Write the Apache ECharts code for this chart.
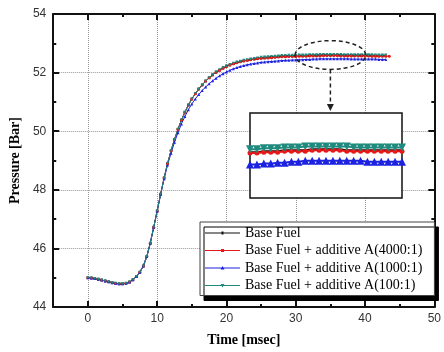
<!DOCTYPE html>
<html>
<head>
<meta charset="utf-8">
<script src="https://cdn.jsdelivr.net/npm/echarts@6/dist/echarts.min.js"></script>
<style>html,body{margin:0;padding:0;background:#fff}#c{width:444px;height:352px}</style>
</head>
<body>
<div id="c"></div>
<script>
const time = [0,0.5,1,1.5,2,2.5,3,3.5,4,4.5,5,5.5,6,6.5,7,7.5,8,8.5,9,9.5,10,10.5,11,11.5,12,12.5,13,13.5,14,14.5,15,15.5,16,16.5,17,17.5,18,18.5,19,19.5,20,20.5,21,21.5,22,22.5,23,23.5,24,24.5,25,25.5,26,26.5,27,27.5,28,28.5,29,29.5,30,30.5,31,31.5,32,32.5,33,33.5,34,34.5,35,35.5,36,36.5,37,37.5,38,38.5,39,39.5,40,40.5,41,41.5,42,42.5,43,43.5];

const baseFuel = [45.00,44.99,44.97,44.95,44.92,44.89,44.86,44.83,44.81,44.79,44.79,44.81,44.85,44.93,45.04,45.19,45.40,45.72,46.18,46.72,47.28,47.85,48.40,48.90,49.33,49.72,50.07,50.38,50.65,50.89,51.10,51.28,51.44,51.58,51.71,51.82,51.92,52.01,52.08,52.15,52.21,52.26,52.30,52.34,52.37,52.40,52.42,52.44,52.46,52.48,52.49,52.50,52.51,52.52,52.53,52.54,52.55,52.55,52.56,52.56,52.56,52.57,52.57,52.57,52.58,52.58,52.58,52.58,52.59,52.59,52.59,52.59,52.59,52.58,52.58,52.58,52.58,52.58,52.58,52.58,52.58,52.58,52.57,52.57,52.57,52.57,52.57];

const additive4000 = [45.00,44.99,44.97,44.95,44.92,44.89,44.86,44.83,44.81,44.79,44.79,44.81,44.85,44.93,45.04,45.19,45.40,45.72,46.18,46.72,47.28,47.86,48.41,48.90,49.33,49.72,50.07,50.38,50.65,50.89,51.10,51.28,51.44,51.58,51.71,51.82,51.92,52.01,52.08,52.15,52.21,52.26,52.30,52.34,52.37,52.40,52.42,52.44,52.46,52.47,52.49,52.50,52.50,52.51,52.52,52.53,52.54,52.54,52.55,52.55,52.55,52.56,52.56,52.56,52.57,52.57,52.57,52.57,52.58,52.58,52.58,52.58,52.58,52.57,52.57,52.57,52.57,52.57,52.57,52.57,52.57,52.57,52.56,52.56,52.56,52.56,52.56,52.56];

const additive1000 = [45.00,44.99,44.97,44.95,44.92,44.89,44.86,44.83,44.81,44.79,44.79,44.81,44.85,44.93,45.04,45.19,45.40,45.72,46.18,46.72,47.28,47.85,48.38,48.85,49.25,49.62,49.95,50.25,50.50,50.73,50.93,51.10,51.25,51.39,51.51,51.62,51.72,51.81,51.89,51.96,52.02,52.08,52.13,52.17,52.21,52.24,52.27,52.29,52.31,52.33,52.35,52.36,52.37,52.38,52.39,52.40,52.41,52.42,52.42,52.43,52.43,52.44,52.44,52.45,52.45,52.46,52.46,52.47,52.47,52.47,52.47,52.47,52.47,52.47,52.47,52.47,52.46,52.46,52.46,52.46,52.46,52.46,52.46,52.46,52.45,52.45,52.45];

const additive100 = [45.00,44.99,44.97,44.95,44.92,44.89,44.86,44.83,44.81,44.79,44.79,44.81,44.85,44.93,45.04,45.19,45.40,45.72,46.18,46.72,47.28,47.85,48.40,48.90,49.33,49.72,50.07,50.38,50.65,50.89,51.10,51.28,51.44,51.58,51.71,51.82,51.93,52.03,52.10,52.17,52.23,52.28,52.32,52.36,52.39,52.42,52.44,52.46,52.48,52.50,52.52,52.53,52.54,52.55,52.56,52.57,52.58,52.58,52.59,52.59,52.59,52.60,52.60,52.60,52.61,52.61,52.61,52.62,52.62,52.62,52.62,52.62,52.62,52.62,52.61,52.61,52.61,52.61,52.61,52.61,52.61,52.61,52.61,52.60,52.60,52.60,52.60];

const seriesNames = ['Base Fuel','Base Fuel + additive A(4000:1)','Base Fuel + additive A(1000:1)','Base Fuel + additive A(100:1)'];
const xMajorTicks = [0,10,20,30,40,50];
const xMinorTicks = [5,15,25,35,45];

const colors = ['#111111','#e81818','#1c22e0','#1f8a7e'];
const symbols = ['rect','circle','triangle','triangle'];
const rotations = [0,0,0,180];
const values = [baseFuel, additive4000, additive1000, additive100];

// legend icons: thin line with a small marker in the middle (35 x 7 box)
const legendIcons = [
  'path://M0,3 L35,3 L35,4 L0,4 Z M16.5,2 L18.5,2 L18.5,5 L16.5,5 Z M0,0 L0.01,0 L0.01,0.01 Z M0,7 L0.01,7 L0.01,6.99 Z',
  'path://M0,3 L35,3 L35,4 L0,4 Z M16,2 L19,2 L19,5 L16,5 Z M0,0 L0.01,0 L0.01,0.01 Z M0,7 L0.01,7 L0.01,6.99 Z',
  'path://M0,3 L35,3 L35,4 L0,4 Z M17.5,1.5 L19.5,5 L15.5,5 Z M0,0 L0.01,0 L0.01,0.01 Z M0,7 L0.01,7 L0.01,6.99 Z',
  'path://M0,3 L35,3 L35,4 L0,4 Z M15.5,2 L19.5,2 L17.5,5.5 Z M0,0 L0.01,0 L0.01,0.01 Z M0,7 L0.01,7 L0.01,6.99 Z'
];

function pairs(arr){ return arr.map((v,i)=>[time[i], v]); }

const chart = echarts.init(document.getElementById('c'), null, {renderer:'canvas'});

const axisFont = {fontFamily:'Liberation Sans, Arial, sans-serif', fontSize:12, color:'#333'};
const nameFont = {fontFamily:'Liberation Serif, Times New Roman, serif', fontSize:14, fontWeight:'bold', color:'#000'};

const G = {left:49, top:14, width:390, height:295};

const mainSeries = values.map((arr,k)=>({
  name: seriesNames[k], type:'line', xAxisIndex:0, yAxisIndex:0,
  data: pairs(arr), symbol: symbols[k], symbolRotate: rotations[k], symbolSize: k===0?2.5:3,
  showAllSymbol:true, color: colors[k],
  lineStyle:{width:1, color: colors[k]}, itemStyle:{color: colors[k]},
  animation:false, z:3
}));

const insetSeries = [0,1,2,3].map(k=>({
  name: 'inset'+k, type:'line', xAxisIndex:4, yAxisIndex:2,
  data: pairs(values[k]),
  symbol: k===0?'none':symbols[k], symbolRotate: rotations[k],
  symbolSize: k===1?5:(k===0?0:8),
  showAllSymbol:true, color: colors[k],
  lineStyle:{width:2, color: colors[k]}, itemStyle:{color: colors[k]},
  clip:true, animation:false, z:10
}));

const axisLineStyle = {show:true, onZero:false, lineStyle:{color:'#111', width:2}};

chart.setOption({
  animation:false,
  backgroundColor:'#fff',
  grid:[
    Object.assign({containLabel:false, z:2}, G),
    {left:250, top:113, width:152, height:85, show:true, backgroundColor:'#fff', borderColor:'#111', borderWidth:1.5, z:6}
  ],
  xAxis:[
    {type:'value', gridIndex:0, position:'bottom', min:-5, max:50,
     axisLine:axisLineStyle,
     axisTick:{show:true, inside:true, length:6, lineStyle:{color:'#111', width:2}, customValues:xMajorTicks},
     axisLabel:Object.assign({margin:6, customValues:xMajorTicks}, axisFont),
     splitLine:{show:true, lineStyle:{type:'dotted', color:'#999', width:1}},
     name:'Time [msec]', nameLocation:'middle', nameGap:26, nameTextStyle:nameFont},
    {type:'value', gridIndex:0, position:'bottom', min:-5, max:50,
     axisLine:{show:false, onZero:false},
     axisTick:{show:true, inside:true, length:3, lineStyle:{color:'#111', width:2}, customValues:xMinorTicks},
     axisLabel:{show:false}, splitLine:{show:false}},
    {type:'value', gridIndex:0, position:'top', min:-5, max:50,
     axisLine:axisLineStyle,
     axisTick:{show:true, inside:true, length:6, lineStyle:{color:'#111', width:2}, customValues:xMajorTicks},
     axisLabel:{show:false}, splitLine:{show:false}},
    {type:'value', gridIndex:0, position:'top', min:-5, max:50,
     axisLine:{show:false, onZero:false},
     axisTick:{show:true, inside:true, length:3, lineStyle:{color:'#111', width:2}, customValues:xMinorTicks},
     axisLabel:{show:false}, splitLine:{show:false}},
    {type:'value', gridIndex:1, min:29.5, max:40.5, show:false}
  ],
  yAxis:[
    {type:'value', gridIndex:0, position:'left', min:44, max:54, interval:2,
     axisLine:axisLineStyle,
     axisTick:{show:true, inside:true, length:6, lineStyle:{color:'#111', width:2}},
     minorTick:{show:true, splitNumber:2, length:3, lineStyle:{color:'#111', width:2}},
     axisLabel:Object.assign({margin:7}, axisFont),
     splitLine:{show:true, lineStyle:{type:'dotted', color:'#999', width:1}},
     name:'Pressure [Bar]', nameLocation:'middle', nameGap:28, nameRotate:90, nameTextStyle:nameFont},
    {type:'value', gridIndex:0, position:'right', min:44, max:54, interval:2,
     axisLine:axisLineStyle,
     axisTick:{show:true, inside:true, length:6, lineStyle:{color:'#111', width:2}},
     minorTick:{show:true, splitNumber:2, length:3, lineStyle:{color:'#111', width:2}},
     axisLabel:{show:false}, splitLine:{show:false}},
    {type:'value', gridIndex:1, min:52.08, max:52.97, show:false}
  ],
  legend:{
    data: seriesNames.map((n,k)=>({name:n, icon:legendIcons[k], itemStyle:{color:colors[k]}})),
    orient:'vertical', left:200, top:222,
    padding:[4,12,3,5], itemWidth:35, itemHeight:7, itemGap:3.5,
    backgroundColor:'#fff', borderColor:'#444', borderWidth:1,
    shadowColor:'#000', shadowBlur:0, shadowOffsetX:4, shadowOffsetY:5,
    textStyle:{fontFamily:'Liberation Serif, Times New Roman, serif', fontSize:14, color:'#000'},
    selectedMode:false, z:8
  },
  series: mainSeries.concat(insetSeries)
});

// Annotation: dashed ellipse around the plateau and arrow down to the inset
const c = chart.convertToPixel({gridIndex:0}, [35, 52.6]);
const l = chart.convertToPixel({gridIndex:0}, [29.9, 53.09]);
const r = chart.convertToPixel({gridIndex:0}, [40.1, 52.11]);
const rx = (r[0]-l[0])/2, ry = (r[1]-l[1])/2;
const insetTop = 113;
chart.setOption({
  graphic:[
    {type:'ellipse', shape:{cx:c[0], cy:c[1], rx:rx, ry:ry}, style:{fill:'none', stroke:'#222', lineWidth:1.5, lineDash:[4,3]}, z:20},
    {type:'line', shape:{x1:c[0], y1:c[1]+ry, x2:c[0], y2:insetTop-8}, style:{stroke:'#222', lineWidth:1.5, lineDash:[4,3]}, z:20},
    {type:'polygon', shape:{points:[[c[0]-3.5, insetTop-9],[c[0]+3.5, insetTop-9],[c[0], insetTop-2]]}, style:{fill:'#222'}, z:20}
  ]
});
</script>
</body>
</html>
